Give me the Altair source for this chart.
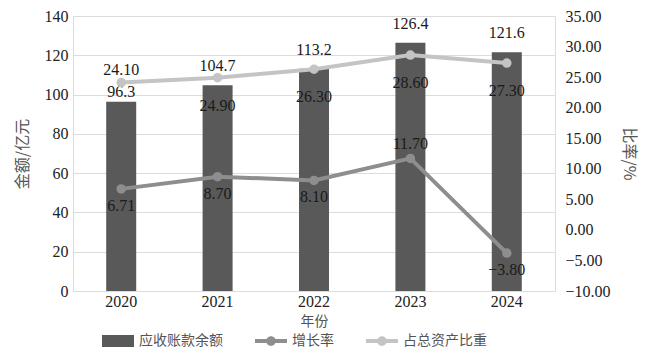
import altair as alt
import pandas as pd

years = ["2020", "2021", "2022", "2023", "2024"]
balance = [96.3, 104.7, 113.2, 126.4, 121.6]
growth = [6.71, 8.70, 8.10, 11.70, -3.80]
share = [24.10, 24.90, 26.30, 28.60, 27.30]

series_names = ["应收账款余额", "增长率", "占总资产比重"]
series_colors = ["#595959", "#8e8e8e", "#c4c4c4"]

bar_df = pd.DataFrame({"year": years, "value": balance, "series": series_names[0]})
line_df = pd.concat([
    pd.DataFrame({"year": years, "value": growth, "series": series_names[1]}),
    pd.DataFrame({"year": years, "value": share, "series": series_names[2]}),
], ignore_index=True)

NUM_FONT = "Liberation Serif"
CJK_FONT = "Noto Sans CJK SC"

bar_path = "M-1,-0.375H1V0.375H-1Z"
line_path = "M-1,-0.12H1V0.12H-1Z M0.3,0A0.3,0.3,0,1,1,-0.3,0A0.3,0.3,0,1,1,0.3,0Z"

color = alt.Color(
    "series:N",
    scale=alt.Scale(domain=series_names, range=series_colors),
    legend=alt.Legend(
        title=None, orient="none", direction="horizontal",
        legendX=29, legendY=309,
        labelFont=CJK_FONT, labelFontSize=14, labelColor="#555555",
        symbolSize=1024, columnPadding=32, labelOffset=5,
        symbolStrokeWidth=0, symbolOpacity=1,
        symbolType={"expr": f"datum.value === '{series_names[0]}' ? '{bar_path}' : '{line_path}'"},
    ),
)

x = alt.X(
    "year:N", sort=years,
    scale=alt.Scale(paddingInner=0.0, paddingOuter=0.0),
    axis=alt.Axis(title="年份", labelAngle=0, ticks=False, domain=False,
                  labelFont=NUM_FONT, labelFontSize=16, labelColor="#222222",
                  labelPadding=2, titleFont=CJK_FONT, titleFontSize=14,
                  titleFontWeight="normal", titleColor="#555555", titlePadding=5),
)

y_left = alt.Y(
    "value:Q", scale=alt.Scale(domain=[0, 140], nice=False),
    axis=alt.Axis(title="金额/亿元", values=list(range(0, 141, 20)), ticks=False, domain=False,
                  grid=True, gridColor="#dcdcdc", gridWidth=1,
                  labelFont=NUM_FONT, labelFontSize=16, labelColor="#222222", labelPadding=5,
                  titleFont=CJK_FONT, titleFontSize=16, titleFontWeight="normal",
                  titleColor="#555555", titlePadding=14),
)

y_right = alt.Y(
    "value:Q", scale=alt.Scale(domain=[-10, 35], nice=False),
    axis=alt.Axis(title="比率/%", orient="right", values=list(range(-10, 36, 5)), format=".2f",
                  ticks=False, domain=False, grid=False,
                  labelFont=NUM_FONT, labelFontSize=16, labelColor="#222222", labelPadding=10,
                  titleFont=CJK_FONT, titleFontSize=16, titleFontWeight="normal",
                  titleColor="#555555", titlePadding=10),
)

bars = alt.Chart(bar_df).mark_bar(size=30).encode(x=x, y=y_left, color=color)

def bar_label(filter_expr, dy):
    return alt.Chart(bar_df).transform_filter(filter_expr).mark_text(
        dy=dy, font=NUM_FONT, fontSize=16, color="#1a1a1a"
    ).encode(x=x, y=y_left, text=alt.Text("value:Q", format=".1f"))

bar_layer = alt.layer(
    bars,
    bar_label("datum.year === '2020'", -10),
    bar_label("datum.year !== '2020'", -19),
)

lines = alt.Chart(line_df).mark_line(strokeWidth=4).encode(x=x, y=y_right, color=color)
points = alt.Chart(line_df).mark_point(filled=True, size=90, opacity=1).encode(x=x, y=y_right, color=color)

def line_label(filter_expr, dy):
    return alt.Chart(line_df).transform_filter(filter_expr).mark_text(
        dy=dy, font=NUM_FONT, fontSize=16, color="#1a1a1a"
    ).encode(x=x, y=y_right, text=alt.Text("value:Q", format=".2f"))

s1, s2 = series_names[1], series_names[2]
line_layer = alt.layer(
    lines, points,
    line_label(f"datum.series === '{s2}' && datum.year === '2020'", -13),
    line_label(f"datum.series === '{s2}' && datum.year !== '2020'", 28),
    line_label(f"datum.series === '{s1}' && datum.year === '2023'", -14),
    line_label(f"datum.series === '{s1}' && datum.year !== '2023'", 17),
)

chart = alt.layer(bar_layer, line_layer).resolve_scale(y="independent").properties(
    width=482, height=275,
    autosize=alt.AutoSizeParams(type="none"),
    padding={"left": 65, "top": 8, "right": 88, "bottom": 58},
).configure_view(stroke=None).configure(background="white")

chart.save("out.html", embed_options={"renderer": "svg", "actions": False})
